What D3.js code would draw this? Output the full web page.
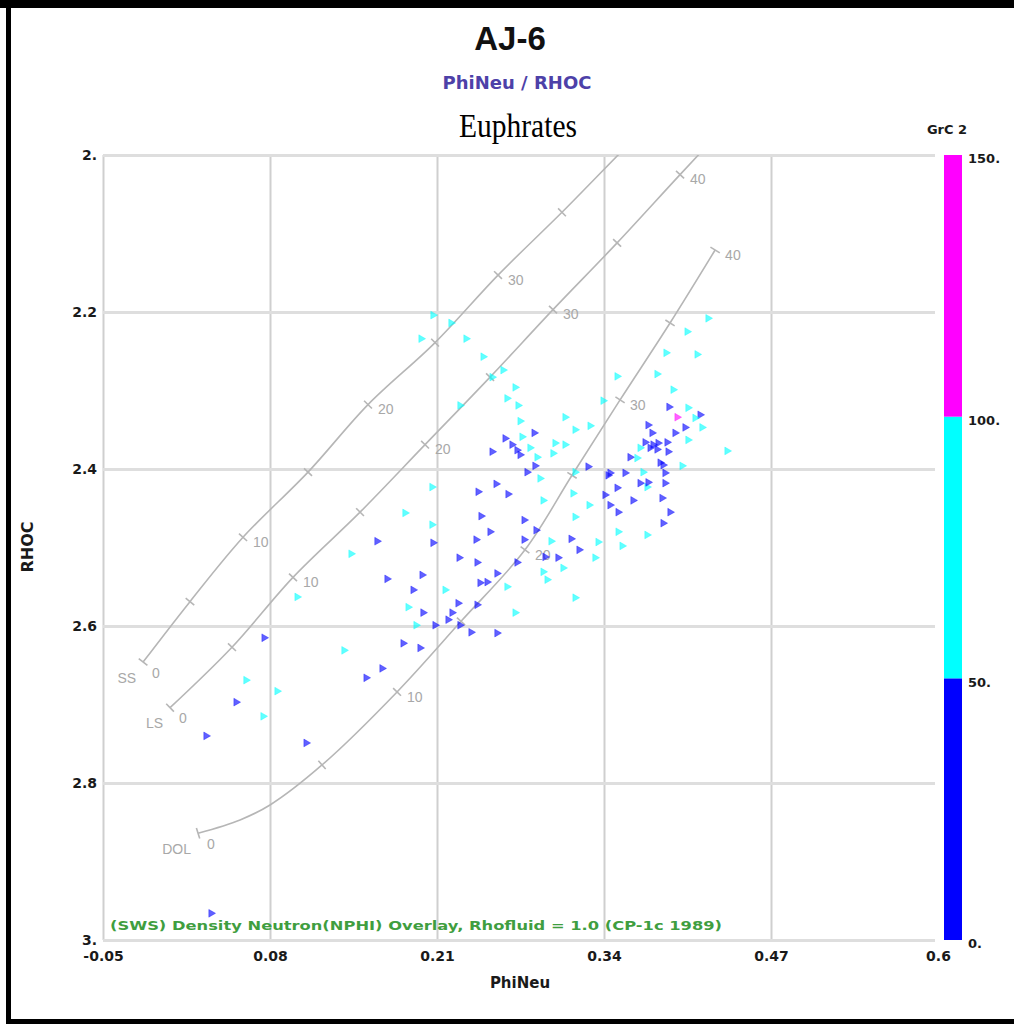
<!DOCTYPE html>
<html><head><meta charset="utf-8">
<script src="https://cdn.jsdelivr.net/npm/d3@7"></script>
<style>body{margin:0;background:#fff}svg{display:block}</style>
</head><body>
<svg id="chart" width="1014" height="1027"></svg>
<script>
// ---------- data ----------
const xTickValues = [-0.05, 0.08, 0.21, 0.34, 0.47, 0.6];
const xTickLabels = ["-0.05", "0.08", "0.21", "0.34", "0.47", "0.6"];
const yTickValues = [2.0, 2.2, 2.4, 2.6, 2.8, 3.0];
const yTickLabels = ["2.", "2.2", "2.4", "2.6", "2.8", "3."];
const grcTickValues = [0, 50, 100, 150];
const grcTickLabels = ["0.", "50.", "100.", "150."];
const grcThresholds = [50, 100];
const grcColors = ["#0000ff", "#00ffff", "#ff00ff"];

// lithology overlay lines (porosity %, PhiNeu, RHOC); null porosity = shape node only
const ssPor = [0, 5, 10, 15, 20, 25, 30, 35, 40, null];
const ssPhi = [-0.0188, 0.0177, 0.0590, 0.1096, 0.1563, 0.2085, 0.2575, 0.3073, 0.3564, 0.4054];
const ssRho = [2.646, 2.569, 2.487, 2.404, 2.318, 2.239, 2.153, 2.073, 1.991, 1.911];
const lsPor = [0, 5, 10, 15, 20, 25, 30, 35, 40, null];
const lsPhi = [0.0022, 0.0504, 0.0979, 0.1501, 0.2007, 0.2513, 0.3003, 0.3502, 0.3992, 0.4483];
const lsRho = [2.704, 2.627, 2.538, 2.455, 2.369, 2.283, 2.197, 2.112, 2.025, 1.939];
const dolPor = [0, null, null, 5, 10, 15, 20, 25, 30, 35, 40];
const dolPhi = [0.0240, 0.0567, 0.0800, 0.1205, 0.1789, 0.2287, 0.2785, 0.3151, 0.3525, 0.3914, 0.4265];
const dolRho = [2.864, 2.847, 2.828, 2.777, 2.684, 2.594, 2.503, 2.408, 2.312, 2.214, 2.121];
const lithNames = ["SS", "LS", "DOL"];

// scatter points
const phiNeu = [
0.1851,0.1633,0.1431,0.1711,0.1914,0.1875,0.1011,0.1836,0.0754,0.1376,
0.1672,0.1548,0.0613,0.0855,0.0536,0.0746,0.0302,0.1081,0.0341,0.2061,
0.2420,0.2560,0.2653,0.2801,0.2902,0.2926,0.3159,0.2443,0.2778,0.3284,
0.3175,0.3408,0.3447,0.3510,0.3502,0.3432,0.3564,0.3626,0.3681,0.3735,
0.3852,0.3875,0.3914,0.3860,0.3510,0.3735,0.3541,0.2069,0.2404,0.2513,
0.2778,0.2871,0.2988,0.3144,0.3206,0.3354,0.3330,0.2272,0.2412,0.2723,
0.2941,0.3042,0.3081,0.2926,0.2957,0.2567,0.2435,0.2490,0.2645,0.1984,
0.1991,0.2163,0.2264,0.2412,0.2708,0.3175,0.2217,0.2186,0.2085,0.2279,
0.2365,0.2567,0.1968,0.1937,0.2069,0.2209,0.1976,0.2326,0.2459,0.2614,
0.2529,0.2708,0.2645,0.2731,0.2279,0.2747,0.3097,0.3175,0.2856,0.2762,
0.2630,0.2684,0.2723,0.2747,0.2529,0.2824,0.3019,0.3003,0.2863,0.2879,
0.4210,0.4047,0.3883,0.4125,0.3502,0.3813,0.3393,0.3938,0.3292,0.3097,
0.3906,0.3969,0.4054,0.4148,0.4109,0.4163,0.4031,0.3953,0.4054,0.4358,
0.3743,0.3774,0.3720,0.3782,0.3821,0.3759,0.3813,0.3891,0.3899,0.3681,
0.3603,0.3657,0.3837,0.3860,0.4008,0.3276,0.3447,0.3704,0.3875,0.3743,
0.3175,0.2061
];
const rhoc = [
2.456,2.492,2.508,2.540,2.554,2.576,2.563,2.622,2.615,2.631,
2.654,2.666,2.669,2.683,2.697,2.715,2.740,2.749,2.966,2.423,
2.429,2.419,2.432,2.404,2.412,2.440,2.431,2.460,2.465,2.446,
2.461,2.433,2.446,2.455,2.424,2.408,2.405,2.440,2.418,2.423,
2.437,2.418,2.455,2.469,2.480,2.484,2.498,2.494,2.490,2.480,
2.490,2.478,2.492,2.489,2.503,2.493,2.513,2.513,2.519,2.519,
2.512,2.513,2.526,2.531,2.541,2.533,2.545,2.544,2.550,2.535,
2.583,2.554,2.571,2.573,2.583,2.564,2.583,2.592,2.599,2.599,
2.608,2.609,2.628,2.599,2.204,2.214,2.234,2.234,2.257,2.274,
2.283,2.296,2.310,2.319,2.319,2.339,2.334,2.350,2.354,2.359,
2.361,2.369,2.376,2.382,2.378,2.373,2.367,2.380,2.396,2.385,
2.208,2.225,2.252,2.254,2.282,2.279,2.313,2.299,2.345,2.369,
2.321,2.334,2.322,2.331,2.335,2.347,2.347,2.354,2.363,2.377,
2.344,2.354,2.366,2.369,2.367,2.373,2.375,2.366,2.378,2.373,
2.385,2.386,2.392,2.395,2.396,2.397,2.405,2.404,2.405,2.417,
2.404,2.471
];
const grc = [
75,30,75,30,30,75,75,30,30,75,
30,30,75,75,30,75,30,30,30,75,
30,30,30,30,75,75,75,30,30,75,
55,48,30,30,30,30,30,30,30,75,
30,30,30,30,75,75,75,30,30,30,
30,30,75,30,30,75,75,30,30,30,
30,30,75,75,75,30,30,30,52,30,
30,75,30,30,75,75,30,30,30,30,
30,30,30,75,75,75,75,75,75,75,
75,75,75,75,75,75,52,75,30,75,
30,30,30,30,30,75,75,75,30,75,
75,75,75,75,75,75,75,75,75,75,
30,120,75,30,75,75,30,30,75,75,
30,30,30,30,30,30,30,30,30,75,
30,75,30,30,75,30,30,75,30,30,
75,75
];

// ---------- drawing ----------
const svg = d3.select("#chart");
const x = d3.scaleLinear().domain([-0.05, 0.6]).range([103, 938]);
const y = d3.scaleLinear().domain([2.0, 3.0]).range([155, 940]);
const color = d3.scaleThreshold().domain(grcThresholds).range(grcColors);
const cb = d3.scaleLinear().domain([0, 150]).range([940, 155]);
const boldFont = "'DejaVu Sans', Verdana, sans-serif";

// frame
svg.append("rect").attr("x", 0).attr("y", 0).attr("width", 1014).attr("height", 8).attr("fill", "#000");
svg.append("rect").attr("x", 6).attr("y", 0).attr("width", 5).attr("height", 1024).attr("fill", "#000");
svg.append("rect").attr("x", 6).attr("y", 1019).attr("width", 1008).attr("height", 5).attr("fill", "#000");

// titles
svg.append("text").attr("x", 510).attr("y", 50).attr("text-anchor", "middle")
  .style("font-family", "'Liberation Sans', Arial, sans-serif").style("font-weight", "bold")
  .style("font-size", "33px").attr("fill", "#111").text("AJ-6");
svg.append("text").attr("x", 517).attr("y", 89).attr("text-anchor", "middle")
  .style("font-family", boldFont).style("font-weight", "bold")
  .style("font-size", "18px").attr("fill", "#4d41a8").text("PhiNeu / RHOC");
svg.append("text").attr("x", 518).attr("y", 137).attr("text-anchor", "middle")
  .attr("textLength", 118).attr("lengthAdjust", "spacingAndGlyphs")
  .style("font-family", "'Liberation Serif', 'Times New Roman', serif")
  .style("font-size", "34px").attr("fill", "#000").text("Euphrates");

// grid: vertical
const gx = svg.append("g").attr("transform", "translate(0,940)")
  .call(d3.axisBottom(x).tickValues(xTickValues.slice(0, 5)).tickSize(-785).tickFormat(""));
gx.select(".domain").remove();
gx.selectAll("line").attr("stroke", "#cfcfcf").attr("stroke-width", 2);
// grid: horizontal
const gy = svg.append("g").attr("transform", "translate(103,0)")
  .call(d3.axisLeft(y).tickValues(yTickValues).tickSize(-832).tickFormat(""));
gy.select(".domain").remove();
gy.selectAll("line").attr("stroke", "#dedede").attr("stroke-width", 3);

// tick labels
const xl = svg.append("g").attr("transform", "translate(0,940)")
  .call(d3.axisBottom(x).tickValues(xTickValues).tickSize(0).tickPadding(11)
    .tickFormat((d, i) => xTickLabels[i]));
xl.select(".domain").remove();
xl.selectAll("text").style("font-family", boldFont).style("font-weight", "bold")
  .style("font-size", "14px").attr("fill", "#1a1a1a");
const yl = svg.append("g").attr("transform", "translate(97,0)")
  .call(d3.axisLeft(y).tickValues(yTickValues).tickSize(0).tickPadding(0)
    .tickFormat((d, i) => yTickLabels[i]));
yl.select(".domain").remove();
yl.selectAll("text").style("font-family", boldFont).style("font-weight", "bold")
  .style("font-size", "14px").attr("fill", "#1a1a1a");

// axis titles
svg.append("text").attr("transform", "translate(33,547) rotate(-90)").attr("text-anchor", "middle")
  .style("font-family", boldFont).style("font-weight", "bold").style("font-size", "16px")
  .attr("fill", "#1a1a1a").text("RHOC");
svg.append("text").attr("x", 520).attr("y", 988).attr("text-anchor", "middle")
  .style("font-family", boldFont).style("font-weight", "bold").style("font-size", "15px")
  .attr("fill", "#1a1a1a").text("PhiNeu");

// clip for overlay
svg.append("clipPath").attr("id", "plotclip").append("rect")
  .attr("x", 103).attr("y", 155).attr("width", 835).attr("height", 785);

// lithology lines
const liths = [
  {name: lithNames[0], por: ssPor, phi: ssPhi, rho: ssRho},
  {name: lithNames[1], por: lsPor, phi: lsPhi, rho: lsRho},
  {name: lithNames[2], por: dolPor, phi: dolPhi, rho: dolRho}
];
const lg = svg.append("g").attr("clip-path", "url(#plotclip)");
const labG = svg.append("g");
const lineGen = d3.line().x(d => x(d[0])).y(d => y(d[1])).curve(d3.curveMonotoneX);
const lineCol = "#b6b6b6";
liths.forEach(L => {
  const pts = L.phi.map((p, i) => [p, L.rho[i]]);
  lg.append("path").datum(pts).attr("d", d3.line().x(d => x(d[0])).y(d => y(d[1])).curve(d3.curveCatmullRom.alpha(0.5)))
    .attr("fill", "none").attr("stroke", lineCol).attr("stroke-width", 1.6);
  L.por.forEach((por, i) => {
    if (por === null) return;
    const px = x(L.phi[i]), py = y(L.rho[i]);
    const j0 = Math.max(0, i - 1), j1 = Math.min(L.phi.length - 1, i + 1);
    let dx = x(L.phi[j1]) - x(L.phi[j0]), dy = y(L.rho[j1]) - y(L.rho[j0]);
    const len = Math.hypot(dx, dy); dx /= len; dy /= len;
    const nx = -dy, ny = dx, h = 5.5;
    lg.append("line").attr("x1", px - nx * h).attr("y1", py - ny * h)
      .attr("x2", px + nx * h).attr("y2", py + ny * h)
      .attr("stroke", lineCol).attr("stroke-width", 1.6);
    if (por % 10 === 0 && py > 160) {
      const off = por === 0 ? [9, 12] : [10, 6];
      labG.append("text").attr("x", px + off[0]).attr("y", py + off[1])
        .attr("dominant-baseline", "middle")
        .style("font-family", "'Liberation Sans', Arial, sans-serif").style("font-size", "14px")
        .attr("fill", "#a8a8a8").text(String(por));
      if (por === 0) {
        labG.append("text").attr("x", px - 7).attr("y", py + 17)
          .attr("dominant-baseline", "middle").attr("text-anchor", "end")
          .style("font-family", "'Liberation Sans', Arial, sans-serif").style("font-size", "14px")
          .attr("fill", "#a8a8a8").text(L.name);
      }
    }
  });
});

// scatter points
const pts = phiNeu.map((p, i) => ({p, r: rhoc[i], g: grc[i]}));
svg.append("g").attr("clip-path", "url(#plotclip)").selectAll("path").data(pts).join("path")
  .attr("d", d3.symbol(d3.symbolTriangle, 26))
  .attr("transform", d => `translate(${x(d.p)},${y(d.r)}) rotate(90)`)
  .attr("fill", d => color(d.g)).attr("fill-opacity", 0.62)
  .attr("stroke", d => color(d.g)).attr("stroke-opacity", 0.35).attr("stroke-width", 1);

// green overlay caption
svg.append("text").attr("x", 110).attr("y", 930)
  .attr("textLength", 612).attr("lengthAdjust", "spacingAndGlyphs")
  .style("font-family", boldFont).style("font-weight", "bold").style("font-size", "13px")
  .attr("fill", "#3f9e3f").text("(SWS) Density Neutron(NPHI) Overlay, Rhofluid = 1.0 (CP-1c 1989)");

// colour bar
const segs = [[0, 50], [50, 100], [100, 150]];
svg.append("g").selectAll("rect").data(segs).join("rect")
  .attr("x", 944).attr("width", 18)
  .attr("y", d => cb(d[1])).attr("height", d => cb(d[0]) - cb(d[1]))
  .attr("fill", d => color((d[0] + d[1]) / 2));
const cba = svg.append("g").attr("transform", "translate(962,0)")
  .call(d3.axisRight(cb).tickValues(grcTickValues).tickSize(0).tickPadding(6)
    .tickFormat((d, i) => grcTickLabels[i]));
cba.select(".domain").remove();
cba.selectAll("text").style("font-family", boldFont).style("font-weight", "bold")
  .style("font-size", "13px").attr("fill", "#1a1a1a").attr("dy", "0.6em");
svg.append("text").attr("x", 947).attr("y", 134).attr("text-anchor", "middle")
  .style("font-family", boldFont).style("font-weight", "bold").style("font-size", "13px")
  .attr("fill", "#1a1a1a").text("GrC 2");
</script>
</body></html>
